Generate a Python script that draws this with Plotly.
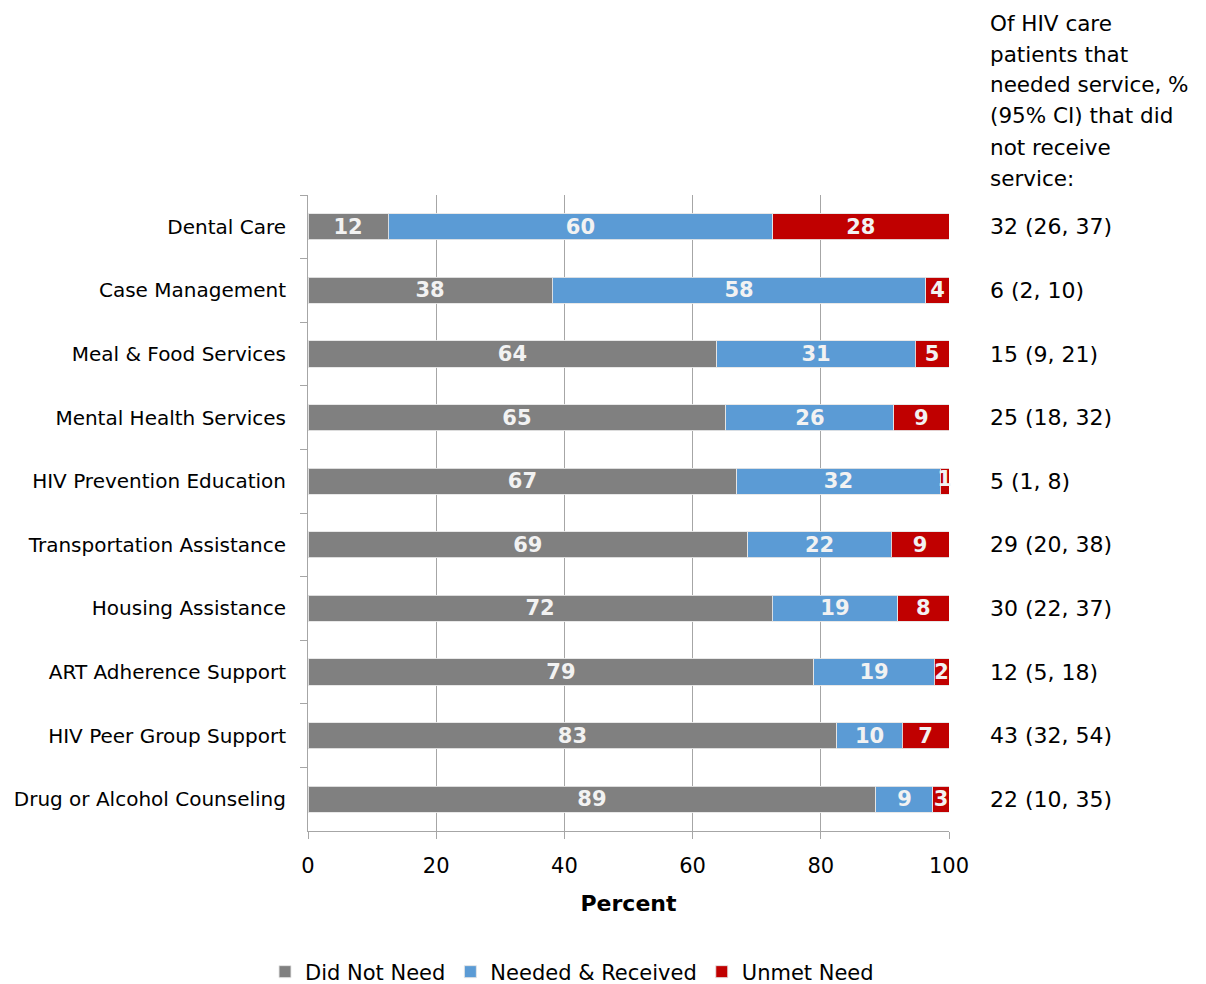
import plotly.graph_objects as go

categories = ["Dental Care", "Case Management", "Meal & Food Services", "Mental Health Services",
              "HIV Prevention Education", "Transportation Assistance", "Housing Assistance",
              "ART Adherence Support", "HIV Peer Group Support", "Drug or Alcohol Counseling"]
did_not_need = [12.5, 38.1, 63.8, 65.2, 66.9, 68.6, 72.4, 78.9, 82.5, 88.6]
needed_received = [60.0, 58.3, 30.9, 26.2, 31.7, 22.4, 19.6, 18.8, 10.2, 8.9]
unmet_need = [27.5, 3.6, 5.3, 8.6, 1.4, 9.0, 8.0, 2.3, 7.3, 2.5]
label_dnn = ["12", "38", "64", "65", "67", "69", "72", "79", "83", "89"]
label_nr = ["60", "58", "31", "26", "32", "22", "19", "19", "10", "9"]
label_un = ["28", "4", "5", "9", "1", "9", "8", "2", "7", "3"]
ci_text = ["32 (26, 37)", "6 (2, 10)", "15 (9, 21)", "25 (18, 32)", "5 (1, 8)",
           "29 (20, 38)", "30 (22, 37)", "12 (5, 18)", "43 (32, 54)", "22 (10, 35)"]
header_lines = ["Of HIV care", "patients that", "needed service, %", "(95% CI) that did",
                "not receive", "service:"]
x_ticks = [0, 20, 40, 60, 80, 100]

FONT = "DejaVu Sans, Verdana, sans-serif"
W, H = 1206, 984
L, R, T, B = 308, 949, 195, 831
LABEL_FONT = dict(family=FONT, size=21, color="#F2F2F2", weight="bold")

fig = go.Figure()
series = [
    ("Did Not Need", did_not_need, label_dnn, "#808080"),
    ("Needed & Received", needed_received, label_nr, "#5B9BD5"),
    ("Unmet Need", unmet_need, label_un, "#C00000"),
]
for name, vals, labels, color in series:
    # tiny segments get their label from an overlay text trace instead
    shown = [lab if v >= 2 else "" for v, lab in zip(vals, labels)]
    fig.add_trace(go.Bar(
        y=categories, x=vals, name=name, orientation="h",
        marker=dict(color=color, line=dict(color="rgba(230,230,230,0.9)", width=1)),
        text=shown, textposition="inside", insidetextanchor="middle",
        textangle=0, constraintext="none",
        textfont=LABEL_FONT,
        cliponaxis=False,
    ))

# overlay labels for segments too narrow to hold their text
base = [a + b for a, b in zip(did_not_need, needed_received)]
small_x, small_y, small_t = [], [], []
for b0, v, lab, cat in zip(base, unmet_need, label_un, categories):
    if v < 2:
        small_x.append(b0 + v / 2)
        small_y.append(cat)
        small_t.append(lab)
fig.add_trace(go.Scatter(
    x=small_x, y=small_y, text=small_t, mode="text", textposition="middle center",
    textfont=LABEL_FONT, showlegend=False, hoverinfo="skip", cliponaxis=False,
))

annotations = []
for cat, t in zip(categories, ci_text):
    annotations.append(dict(x=(988 - L) / (R - L), xref="paper", y=cat, yref="y",
                            text=t, showarrow=False, xanchor="left", yanchor="middle",
                            font=dict(family=FONT, size=22, color="#000000")))
for i, line in enumerate(header_lines):
    py = 23 + 31 * i
    annotations.append(dict(x=(988 - L) / (R - L), xref="paper", y=(B - py) / (B - T), yref="paper",
                            text=line, showarrow=False, xanchor="left", yanchor="middle",
                            font=dict(family=FONT, size=21.5, color="#000000")))

fig.update_layout(
    width=W, height=H,
    barmode="stack", bargap=0.59,
    plot_bgcolor="white", paper_bgcolor="white",
    margin=dict(l=L, r=W - R, t=T, b=H - B, autoexpand=False),
    font=dict(family=FONT, size=20, color="#000000"),
    showlegend=True,
    legend=dict(orientation="h", x=(572 - L) / (R - L), xanchor="center",
                y=(B - 972) / (B - T), yanchor="middle", traceorder="normal",
                font=dict(family=FONT, size=21, color="#000000"),
                itemwidth=30, tracegroupgap=0),
    annotations=annotations,
    uniformtext=dict(mode=False),
)
fig.update_xaxes(
    range=[0, 100], tickvals=x_ticks, ticktext=[str(v) for v in x_ticks],
    showgrid=True, gridcolor="#A6A6A6", gridwidth=1,
    showline=True, linecolor="#A6A6A6", linewidth=1,
    ticks="outside", ticklen=7, tickcolor="#A6A6A6",
    tickfont=dict(family=FONT, size=21, color="#000000"),
    ticklabelstandoff=9,
    title=dict(text="<b>Percent</b>", font=dict(family=FONT, size=22, color="#000000"), standoff=18),
    zeroline=False, fixedrange=True,
)
fig.update_yaxes(
    categoryorder="array", categoryarray=categories, autorange="reversed",
    showline=True, linecolor="#A6A6A6", linewidth=1,
    ticks="outside", tickson="boundaries", ticklen=7, tickcolor="#A6A6A6",
    tickfont=dict(family=FONT, size=20, color="#000000"),
    ticklabelstandoff=17,
    showgrid=False, fixedrange=True,
)

fig.write_html("out.html")
